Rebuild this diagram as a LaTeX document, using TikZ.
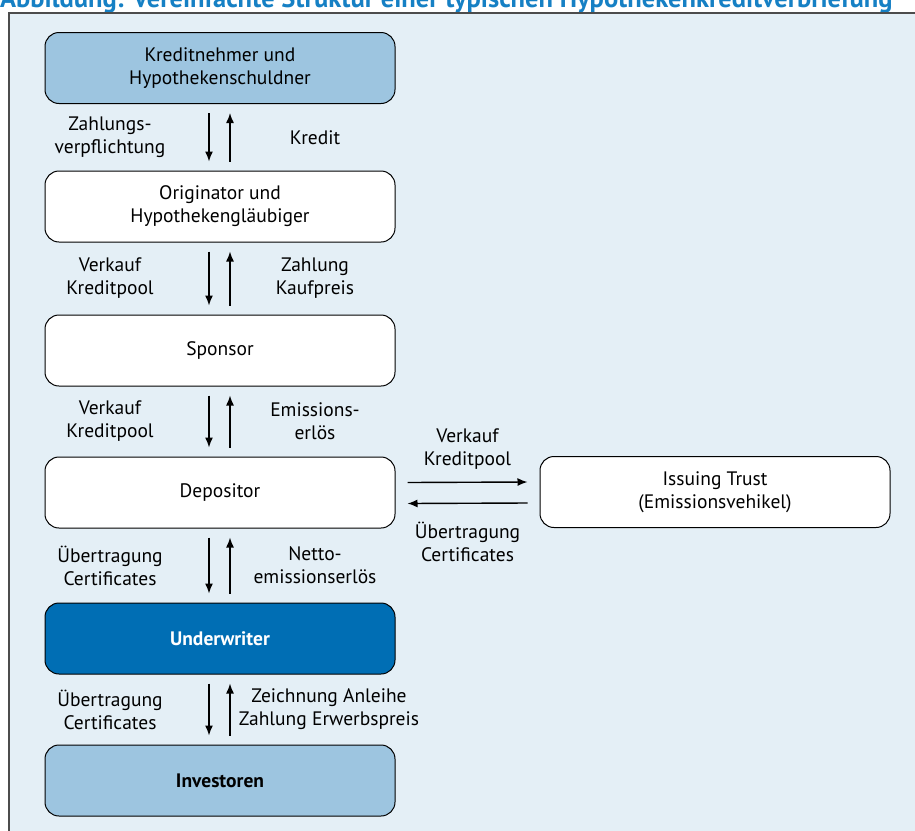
\documentclass[tikz,border=0pt]{standalone}
\usepackage{fontspec}
\setmainfont{PT Sans}
\usepackage{xcolor}
\usetikzlibrary{arrows.meta,positioning}

\begin{document}
\begin{tikzpicture}[
    x=1pt,y=-1pt,
    party/.style={draw=black,line width=1pt,rounded corners=14pt,fill=white,
      minimum width=350pt,minimum height=71pt,align=center,
      font=\fontsize{19.5}{23}\selectfont},
    flow/.style={-{Latex[length=10pt,width=8pt]},line width=1.4pt},
    note/.style={align=center,font=\fontsize{19.5}{23}\selectfont}
  ]
  \definecolor{panel}{HTML}{E4EFF6}
  \definecolor{light}{HTML}{9DC5E0}
  \definecolor{strong}{HTML}{006EB4}
  \definecolor{heading}{HTML}{1680C4}
  \useasboundingbox (0,0) rectangle (915,830);
  \clip (0,0) rectangle (915,830);
  \node[anchor=base west,inner sep=0pt,text=heading,font=\fontsize{26.5}{30}\selectfont\bfseries] (title) at (0,7)
    {Abbildung: Vereinfachte Struktur einer typischen Hypothekenkreditverbriefung};
  % Hintergrund
  \fill[panel] (9,13) rectangle (940,850);
  \draw[line width=2pt,black!70] (9,850) -- (9,13) -- (940,13);
  % Beteiligte
  \node[party,fill=light] (nehmer) at (220,68) {Kreditnehmer und\\Hypothekenschuldner};
  \node[party] (orig) at (220,206.5) {Originator und\\Hypothekengläubiger};
  \node[party] (sponsor) at (220,350.5) {Sponsor};
  \node[party] (dep) at (220,492.5) {Depositor};
  \node[party,fill=strong,text=white,font=\fontsize{19.5}{23}\selectfont\bfseries] (under) at (220,638.5) {Underwriter};
  \node[party,fill=light,font=\fontsize{19.5}{23}\selectfont\bfseries] (invest) at (220,780.5) {Investoren};
  \node[party] (trust) at (715,492) {Issuing Trust\\(Emissionsvehikel)};
  % Zahlungsströme
  \foreach \a/\b/\l/\r in {nehmer/orig/{Zahlungs-\\verpflichtung}/{Kredit},
      orig/sponsor/{Verkauf\\Kreditpool}/{Zahlung\\Kaufpreis},
      sponsor/dep/{Verkauf\\Kreditpool}/{Emissions-\\erlös},
      dep/under/{Übertragung\\Certificates}/{Netto-\\emissionserlös}}{
    \draw[flow] ([xshift=-11pt,yshift=-9pt]\a.south) -- ([xshift=-11pt,yshift=9pt]\b.north);
    \draw[flow] ([xshift=10pt,yshift=9pt]\b.north) -- ([xshift=10pt,yshift=-9pt]\a.south);
    \path (\a.south) -- (\b.north)
      node[midway,note,xshift=-110pt] {\l}
      node[midway,note,xshift=95pt] {\r};
  }
  \draw[flow] ([xshift=-11pt,yshift=-9pt]under.south) -- ([xshift=-11pt,yshift=9pt]invest.north);
  \draw[flow] ([xshift=10pt,yshift=9pt]invest.north) -- ([xshift=10pt,yshift=-9pt]under.south);
  \path (under.south) -- (invest.north)
    node[midway,note,xshift=-110pt] {Übertragung\\Certificates}
    node[midway,note,xshift=109pt] {Zeichnung Anleihe\\Zahlung Erwerbspreis};
  \draw[flow] ([xshift=12pt,yshift=10pt]dep.east) -- ([xshift=-12pt,yshift=10pt]trust.west)
    node[midway,note,yshift=33pt] {Verkauf\\Kreditpool};
  \draw[flow] ([xshift=-12pt,yshift=-11pt]trust.west) -- ([xshift=12pt,yshift=-11pt]dep.east)
    node[midway,note,yshift=-39pt] {Übertragung\\Certificates};
\end{tikzpicture}
\end{document}
